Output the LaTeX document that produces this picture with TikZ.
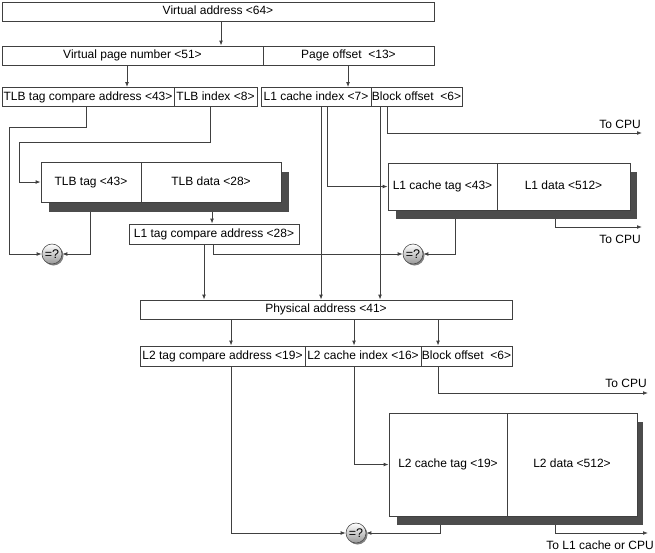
\documentclass[tikz,border=0pt]{standalone}
\usepackage{fontspec}
\setmainfont{Liberation Sans}
\usetikzlibrary{arrows.meta,shadows}
\begin{document}
\begin{tikzpicture}[x=1pt,y=-1pt,
  lin/.style={draw=black!75, line width=0.8pt},
  arr/.style={lin, -{Latex[length=5pt,width=3.8pt]}},
  fld/.style={draw=black!75, line width=0.8pt, fill=white, inner sep=0pt,
    font=\fontsize{12}{14}\selectfont, text height=8.6pt, text depth=2.4pt},
  shad/.style={fill=black!70, draw=none, inner sep=0pt},
  cmp/.style={circle, draw=black!70, line width=0.6pt, minimum size=20pt, inner sep=0pt,
    top color=white, bottom color=black!40, font=\fontsize{12.5}{13}\selectfont,
    drop shadow={shadow xshift=1.5pt, shadow yshift=-1.5pt, fill=black!55, opacity=0.9}},
  lbl/.style={inner sep=0pt, anchor=east, font=\fontsize{12}{14}\selectfont}]
\useasboundingbox (0,0) rectangle (655,552);

% top rows
\node[fld, minimum width=432pt, minimum height=19pt] (va) at (218,11.5) {Virtual address <64>};
\node[fld, minimum width=261pt, minimum height=19pt] (vpn) at (132.5,55.5) {Virtual page number <51>};
\node[fld, minimum width=171pt, minimum height=19pt] (po) at (348.5,55.5) {Page offset \ <13>};
\node[fld, minimum width=172pt, minimum height=19pt] (tlbtag) at (88,97) {TLB tag compare address <43>};
\node[fld, minimum width=83pt, minimum height=19pt] (tlbidx) at (215.5,97) {TLB index <8>};
\node[fld, minimum width=110pt, minimum height=19pt] (l1idx) at (316,97) {L1 cache index <7>};
\node[fld, minimum width=91pt, minimum height=19pt] (bo1) at (416.5,97) {Block offset \ <6>};

% TLB
\node[shad, minimum width=240pt, minimum height=40pt] (tlbsh) at (169,192) {};
\node[fld, minimum width=100pt, minimum height=40pt] (tlbt) at (91,182) {TLB tag <43>};
\node[fld, minimum width=140pt, minimum height=40pt] (tlbd) at (211,182) {TLB data <28>};

% L1 cache
\node[shad, minimum width=241pt, minimum height=47pt] (l1sh) at (516.5,195.5) {};
\node[fld, minimum width=109pt, minimum height=47pt] (l1t) at (442.5,186.5) {L1 cache tag <43>};
\node[fld, minimum width=133pt, minimum height=47pt] (l1d) at (563.5,186.5) {L1 data <512>};

\node[fld, minimum width=170pt, minimum height=20pt] (l1tc) at (214,234) {L1 tag compare address <28>};

% physical address
\node[fld, minimum width=372pt, minimum height=19pt] (phys) at (326,309.5) {Physical address <41>};
\node[fld, minimum width=165pt, minimum height=20pt] (l2tc) at (222.5,356) {L2 tag compare address <19>};
\node[fld, minimum width=116pt, minimum height=20pt] (l2idx) at (363,356) {L2 cache index <16>};
\node[fld, minimum width=91pt, minimum height=20pt] (bo2) at (466.5,356) {Block offset \ <6>};

% L2 cache
\node[shad, minimum width=246pt, minimum height=103pt] (l2sh) at (520,473.5) {};
\node[fld, minimum width=118pt, minimum height=103pt] (l2t) at (448,464.5) {L2 cache tag <19>};
\node[fld, minimum width=130pt, minimum height=103pt] (l2d) at (572,464.5) {L2 data <512>};

% column / corner coordinates
\coordinate (xa) at (221,0);
\coordinate (xb) at (127,0);
\coordinate (xc) at (348,0);
\coordinate (d1) at (86,127);
\coordinate (d2) at (9,127);
\coordinate (e1) at (210,142);
\coordinate (e2) at (19,142);
\coordinate (xf) at (90,0);
\coordinate (xg) at (212,0);
\coordinate (xh) at (204,0);
\coordinate (xi) at (213,0);
\coordinate (xj) at (321,0);
\coordinate (xk) at (327,0);
\coordinate (xl) at (380,0);
\coordinate (xm) at (387,0);
\coordinate (m2) at (642,133);
\coordinate (xn) at (455,0);
\coordinate (xo) at (555,0);
\coordinate (o2) at (642,227);
\coordinate (xp) at (231,0);
\coordinate (xq) at (354,0);
\coordinate (xr) at (438,0);
\coordinate (s2) at (648,393);
\coordinate (xt) at (440,0);
\coordinate (u2) at (648,533);

% comparators
\node[cmp] (c1) at (52,254) {=?};
\node[cmp] (c2) at (413,254) {=?};
\node[cmp] (c3) at (356,533) {=?};

% connectors
\draw[arr] (va.south -| xa) -- (vpn.north -| xa);
\draw[arr] (vpn.south -| xb) -- (tlbtag.north -| xb);
\draw[arr] (po.south -| xc) -- (l1idx.north -| xc);
\draw[arr] (tlbtag.south -| d1) -- (d1) -- (d2) |- (c1.west);
\draw[arr] (tlbidx.south -| e1) -- (e1) -- (e2) |- (tlbt.west);
\draw[arr] (tlbsh.south -| xf) |- (c1.east);
\draw[arr] (tlbsh.south -| xg) -- (l1tc.north -| xg);
\draw[arr] (l1tc.south -| xh) -- (phys.north -| xh);
\draw[arr] (l1tc.south -| xi) |- (c2.west);
\draw[arr] (l1idx.south -| xj) -- (phys.north -| xj);
\draw[arr] (l1idx.south -| xk) |- (l1t.west);
\draw[arr] (bo1.south -| xl) -- (phys.north -| xl);
\draw[arr] (bo1.south -| xm) |- (m2);
\draw[arr] (l1sh.south -| xn) |- (c2.east);
\draw[arr] (l1sh.south -| xo) |- (o2);
\draw[arr] (phys.south -| xp) -- (l2tc.north -| xp);
\draw[arr] (phys.south -| xq) -- (l2idx.north -| xq);
\draw[arr] (phys.south -| xr) -- (bo2.north -| xr);
\draw[arr] (l2tc.south -| xp) |- (c3.west);
\draw[arr] (l2idx.south -| xq) |- (l2t.west);
\draw[arr] (bo2.south -| xr) |- (s2);
\draw[arr] (l2sh.south -| xt) |- (c3.east);
\draw[arr] (l2sh.south -| xo) |- (u2);

% labels
\node[lbl] (tocpu1) at (641,124) {To CPU};
\node[lbl] (tocpu2) at (641,239) {To CPU};
\node[lbl] (tocpu3) at (647,383) {To CPU};
\node[lbl] (tol1) at (654,545) {To L1 cache or CPU};
\end{tikzpicture}
\end{document}
